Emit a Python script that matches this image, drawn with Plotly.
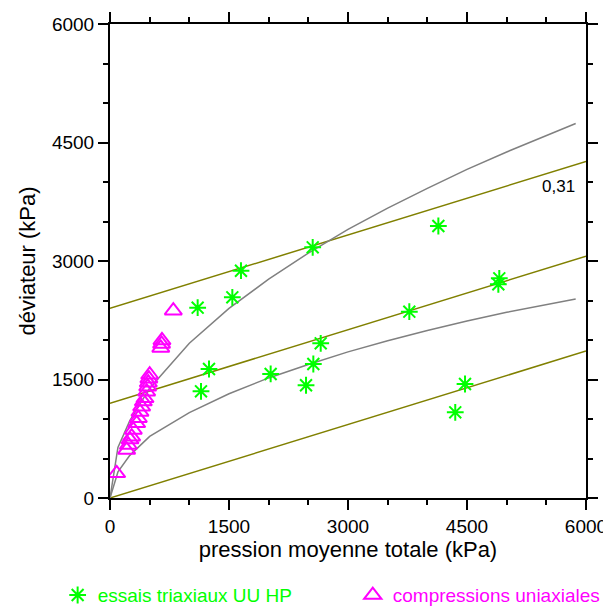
import plotly.graph_objects as go

# Green stars: essais triaxiaux UU HP
tri_p = [1105, 1542, 1651, 2555, 4139, 1248, 1147, 2025, 2471, 2563, 2656, 3773, 4907, 4895, 4475, 4352]
tri_q = [2409, 2540, 2877, 3173, 3443, 1633, 1350, 1570, 1427, 1696, 1958, 2359, 2781, 2705, 1443, 1085]

# Magenta triangles: compressions uniaxiales
uni_p = [84, 210, 231, 252, 273, 294, 336, 357, 378, 399, 420, 441, 462, 475, 483, 490, 500, 640, 650, 655, 798]
uni_q = [313, 608, 671, 740, 776, 861, 945, 1010, 1090, 1156, 1220, 1262, 1346, 1409, 1460, 1510, 1560, 1900, 1950, 1995, 2371]

# Olive lines (slope 0,31)
line_p = [0, 6000]
line_low = [0, 1860]
line_mid = [1200, 3060]
line_high = [2400, 4260]

# Gray curves
curve_p = [0, 100, 250, 500, 1000, 1500, 2000, 2500, 3000, 3500, 4000, 4500, 5000, 5500, 5870]
curve_up = [0, 640, 980, 1390, 1960, 2400, 2770, 3100, 3400, 3670, 3920, 4160, 4380, 4590, 4740]
curve_lo = [0, 330, 540, 780, 1080, 1320, 1520, 1690, 1850, 1990, 2120, 2240, 2350, 2450, 2520]

FONT = "Liberation Sans, Arial, sans-serif"
GREEN = "#00ff00"
MAGENTA = "#ff00ff"
OLIVE = "#808000"
GRAY = "#808080"

fig = go.Figure()

for yv in (line_low, line_mid, line_high):
    fig.add_trace(go.Scatter(x=line_p, y=yv, mode="lines", line=dict(color=OLIVE, width=1.5),
                             showlegend=False, hoverinfo="skip"))
for yv in (curve_up, curve_lo):
    fig.add_trace(go.Scatter(x=curve_p, y=yv, mode="lines", line=dict(color=GRAY, width=1.5),
                             showlegend=False, hoverinfo="skip"))

fig.add_trace(go.Scatter(
    x=tri_p, y=tri_q, mode="markers", legend="legend",
    name="essais triaxiaux UU HP",
    marker=dict(symbol="asterisk-open", size=14, color=GREEN, line=dict(color=GREEN, width=2)),
))
fig.add_trace(go.Scatter(
    x=uni_p, y=uni_q, mode="markers", legend="legend2",
    name="compressions uniaxiales",
    marker=dict(symbol="triangle-up-open", size=15, color=MAGENTA, line=dict(color=MAGENTA, width=2)),
))

axis_common = dict(
    range=[0, 6000], dtick=1500, tick0=0, ticks="outside", ticklen=10, tickwidth=2,
    tickcolor="black", showline=True, linewidth=2, linecolor="black", mirror="allticks",
    showgrid=False, zeroline=False, tickfont=dict(family=FONT, size=19, color="black"),
    minor=dict(dtick=500, tick0=0, ticks="outside", ticklen=5, tickwidth=2, tickcolor="black", showgrid=False),
)

fig.update_layout(
    width=603, height=601,
    margin=dict(l=102, r=25, t=16, b=111, autoexpand=False),
    paper_bgcolor="white", plot_bgcolor="white",
    font=dict(family=FONT, size=19, color="black"),
    xaxis=dict(**axis_common, title=dict(text="pression moyenne totale (kPa)",
                                         font=dict(family=FONT, size=22), standoff=0)),
    yaxis=dict(**axis_common, title=dict(text="déviateur (kPa)",
                                         font=dict(family=FONT, size=22), standoff=10)),
    legend=dict(orientation="h", x=-0.110, y=-0.205, xanchor="left", yanchor="middle",
                font=dict(family=FONT, size=19, color=GREEN), bgcolor="rgba(0,0,0,0)"),
    legend2=dict(orientation="h", x=0.510, y=-0.205, xanchor="left", yanchor="middle",
                 font=dict(family=FONT, size=19, color=MAGENTA), bgcolor="rgba(0,0,0,0)"),
    annotations=[dict(x=5647, y=3937, xref="x", yref="y", text="0,31", showarrow=False,
                      font=dict(family=FONT, size=17, color="black"))],
)

fig.write_html("out.html")
